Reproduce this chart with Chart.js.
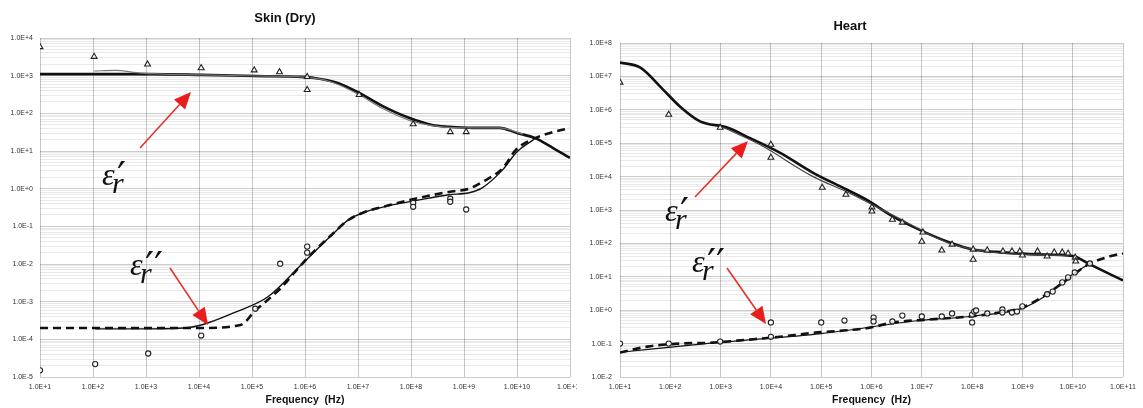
<!DOCTYPE html>
<html>
<head>
<meta charset="utf-8">
<script src="https://cdn.jsdelivr.net/npm/chart.js@4.4.1/dist/chart.umd.min.js"></script>
<style>
  html, body { margin: 0; padding: 0; background: #fff; }
  #wrap { position: relative; width: 1143px; height: 408px; overflow: hidden; background: #fff; }
  #skinBox { position: absolute; left: 0; top: 0; width: 600px; height: 408px; }
  #heartBox { position: absolute; left: 577px; top: 0; width: 566px; height: 408px; background: #fff; }
</style>
</head>
<body>
<div id="wrap">
  <div id="skinBox"><canvas id="skin"></canvas></div>
  <div id="heartBox"><canvas id="heart"></canvas></div>
</div>
<script>
// ---------- Skin (Dry) ----------
// relative permittivity, model curve and measured curve
const skinRealModelF = [1e1, 1.2e3, 1.1e4, 1.15e5, 8.5e5, 1.5e6, 4e6, 1.05e7, 2.8e7, 9.1e7, 2.5e8, 5.2e8, 1.45e9, 4.7e9, 1.0e10, 2.2e10, 4.8e10, 1e11];
const skinRealModel  = [1100, 1100, 1050, 980, 930, 870, 650, 350, 160, 76, 49, 44, 41, 41, 30, 22, 12, 6.6];
const skinRealMeasF  = [1.05e2, 2.6e2, 8e2, 1.1e4, 1.15e5, 8.5e5, 3.2e6, 1.05e7, 2.8e7, 9.1e7, 2.5e8, 9.3e8, 4.7e9, 1.3e10];
const skinRealMeas   = [1330, 1380, 1170, 1050, 980, 930, 680, 310, 138, 66, 47, 41, 41, 28];
// loss factor, measured (solid) and model (dashed)
const skinImagMeasF  = [1.1e2, 1.2e3, 7e3, 1.5e4, 4.6e4, 2.0e5, 8.5e5, 1.3e6, 3.2e6, 6.7e6, 1.35e7, 4.4e7, 1.2e8, 5.2e8, 1.25e9, 2.2e9, 5.4e9, 1.0e10, 2.0e10];
const skinImagMeas   = [1.9e-4, 1.9e-4, 2.1e-4, 2.75e-4, 5.1e-4, 1.35e-3, 9.5e-3, 0.017, 0.059, 0.15, 0.24, 0.37, 0.48, 0.69, 0.78, 1.05, 3.2, 9.5, 19.5];
const skinImagModelF = [1e1, 1.2e3, 1.1e4, 6.3e4, 1.1e5, 3.5e5, 6.3e5, 1.3e6, 3.2e6, 6.7e6, 1.35e7, 4.4e7, 1.2e8, 5.2e8, 1.25e9, 2.2e9, 5.4e9, 9.5e9, 2.2e10, 4.2e10, 1e11];
const skinImagModel  = [2.0e-4, 2.0e-4, 2.0e-4, 2.45e-4, 5.4e-4, 2.3e-3, 5.9e-3, 0.018, 0.06, 0.15, 0.24, 0.38, 0.54, 0.82, 1.0, 1.5, 3.5, 10.7, 22, 30, 41];
// literature data points
const skinTriF  = [1e1, 1.05e2, 1.07e3, 1.1e4, 1.1e5, 3.3e5, 1.1e6, 1.1e6, 1.05e7, 1.1e8, 5.5e8, 1.1e9];
const skinTriV  = [5800, 3200, 2000, 1600, 1400, 1250, 930, 420, 310, 52, 32, 32];
const skinCircF = [1e1, 1.1e2, 1.1e3, 1.1e4, 1.15e5, 3.4e5, 1.1e6, 1.1e6, 1.1e8, 1.1e8, 5.5e8, 5.5e8, 1.1e9];
const skinCircV = [1.5e-5, 2.2e-5, 4.2e-5, 1.26e-4, 6.5e-4, 0.0102, 0.029, 0.020, 0.42, 0.33, 0.54, 0.45, 0.28];

// ---------- Heart ----------
const heartRealModelF = [1e1, 2.5e1, 7.1e1, 1.55e2, 3.9e2, 1.35e3, 3.3e3, 1.5e4, 6.9e4, 3.2e5, 8.1e5, 2.7e6, 1.05e7, 3.6e7, 1.05e8, 4.1e8, 1.95e9, 1.0e10, 2.2e10, 1e11];
const heartRealModel  = [2.6e7, 1.85e7, 4.1e6, 1.26e6, 4.5e5, 2.95e5, 1.58e5, 5.2e4, 1.3e4, 4.1e3, 2.0e3, 630, 230, 107, 66, 54, 47, 42, 23.5, 7.8];
const heartRealMeasF  = [1e3, 6e3, 6.9e4, 3.2e5, 2.7e6, 3.6e7, 4.1e8, 7.8e9];
const heartRealMeas   = [3.2e5, 9.1e4, 1.0e4, 3.5e3, 690, 100, 50, 44];
const heartImagModelF = [1e1, 3.5e1, 1.55e2, 7.1e2, 3.3e3, 1.5e4, 6.9e4, 3.2e5, 9.3e5, 2.7e6, 1.26e7, 9.1e7, 3.5e8, 1.0e9, 2.6e9, 7.8e9, 2.0e10, 5.5e10, 1e11];
const heartImagModel  = [0.054, 0.081, 0.10, 0.107, 0.13, 0.16, 0.21, 0.25, 0.30, 0.43, 0.52, 0.65, 0.85, 1.2, 2.6, 8.3, 23, 41, 50];
const heartImagMeasF  = [1e1, 1e3, 1e5, 1e7, 1e8, 1e9, 3e9, 1e10, 2e10];
const heartImagMeas   = [0.055, 0.11, 0.2, 0.5, 0.66, 1.15, 2.8, 12, 23];
const heartTriF  = [1e1, 9.3e1, 9.8e2, 1.0e4, 1.0e4, 1.05e5, 3.1e5, 1.02e6, 1.02e6, 2.6e6, 4.1e6, 1.05e7, 1.0e7, 2.5e7, 4.0e7, 1.05e8, 1.05e8, 2.0e8, 4.1e8, 6.2e8, 8.9e8, 1.0e9, 2.0e9, 3.1e9, 4.3e9, 6.2e9, 8.1e9, 1.12e10, 1.15e10];
const heartTriV  = [6.6e6, 7.2e5, 2.95e5, 9.1e4, 3.7e4, 4.7e3, 2.9e3, 1.2e3, 910, 520, 425, 215, 114, 62, 93, 66, 33, 62, 58, 58, 58, 44, 58, 41, 54, 54, 50, 38, 29];
const heartCircF = [1e1, 9.3e1, 9.8e2, 1.0e4, 1.0e4, 1.0e5, 2.9e5, 1.1e6, 1.1e6, 2.6e6, 4.1e6, 1.0e7, 2.5e7, 4.0e7, 1.0e8, 1.0e8, 1.1e8, 1.2e8, 2.0e8, 4.0e8, 4.0e8, 6.2e8, 7.8e8, 1.0e9, 3.1e9, 4.0e9, 6.2e9, 8.1e9, 1.1e10, 2.2e10];
const heartCircV = [0.10, 0.10, 0.115, 0.43, 0.16, 0.43, 0.49, 0.60, 0.46, 0.46, 0.69, 0.65, 0.65, 0.80, 0.74, 0.43, 0.91, 0.98, 0.80, 1.05, 0.85, 0.85, 0.91, 1.3, 3.0, 3.6, 6.8, 9.6, 13.5, 25];

// axis ranges
const freqRange  = [1e1, 1e11];
const skinRange  = [1e-5, 1e4];
const heartRange = [1e-2, 1e8];

// ---------- helpers ----------
const pts = (xs, ys) => xs.map((x, i) => ({ x, y: ys[i] }));
const isDecade = v => Math.abs(Math.log10(v) - Math.round(Math.log10(v))) < 1e-6;
const sciLabel = v => {
  const e = Math.round(Math.log10(v));
  return '1.0E' + (e < 0 ? '-' : '+') + Math.abs(e);
};
function logTicks(min, max, withMinor) {
  const lo = Math.round(Math.log10(min)), hi = Math.round(Math.log10(max));
  const out = [];
  for (let e = lo; e <= hi; e++) {
    const b = Math.pow(10, e);
    out.push({ value: b });
    if (withMinor && e < hi) for (let m = 2; m <= 9; m++) out.push({ value: m * b });
  }
  return out;
}

function lineSet(data, opts) {
  return Object.assign({
    data, showLine: true, pointRadius: 0, borderColor: '#111', borderWidth: 2.4,
    cubicInterpolationMode: 'monotone', fill: false, order: 2
  }, opts);
}
function markSet(data, style, radius) {
  return {
    data, showLine: false, pointStyle: style, pointRadius: radius,
    borderColor: '#222', borderWidth: 1.1, backgroundColor: 'rgba(255,255,255,0.85)', order: 0
  };
}

function drawArrow(ctx, x1, y1, x2, y2) {
  const a = Math.atan2(y2 - y1, x2 - x1);
  const len = 17, half = 7.5;
  const bx = x2 - len * Math.cos(a), by = y2 - len * Math.sin(a);
  ctx.save();
  ctx.strokeStyle = '#e5302b';
  ctx.fillStyle = '#e81e1e';
  ctx.lineWidth = 1.6;
  ctx.beginPath(); ctx.moveTo(x1, y1); ctx.lineTo(bx, by); ctx.stroke();
  ctx.beginPath();
  ctx.moveTo(x2, y2);
  ctx.lineTo(bx + half * Math.sin(a), by - half * Math.cos(a));
  ctx.lineTo(bx - half * Math.sin(a), by + half * Math.cos(a));
  ctx.closePath(); ctx.fill();
  ctx.restore();
}
// epsilon with subscript r and one or two primes
function drawSymbol(ctx, x, y, primes) {
  ctx.save();
  ctx.fillStyle = '#111';
  ctx.textBaseline = 'alphabetic';
  ctx.textAlign = 'left';
  ctx.font = 'italic 32px "Liberation Serif"';
  ctx.fillText('\u03b5', x, y);
  ctx.font = 'italic 30px "Liberation Serif"';
  ctx.fillText('r', x + 10, y + 8);
  ctx.font = '40px "DejaVu Serif"';
  ctx.fillText(primes === 2 ? '\u2032\u2032' : '\u2032', x + 15, y + 5);
  ctx.restore();
}

// callout arrows and symbol labels drawn over each panel
const callouts = {
  id: 'callouts',
  afterDatasetsDraw(chart, args, opts) {
    const ctx = chart.ctx;
    (opts.items || []).forEach(it => {
      drawArrow(ctx, it.tail[0], it.tail[1], it.tip[0], it.tip[1]);
      drawSymbol(ctx, it.text[0], it.text[1], it.primes);
    });
  }
};

function panel(canvasId, cfg) {
  const tickFont = { family: '"Liberation Sans", Arial, sans-serif', size: 7 };
  return new Chart(document.getElementById(canvasId), {
    type: 'scatter',
    data: { datasets: cfg.datasets },
    plugins: [callouts],
    options: {
      responsive: true, maintainAspectRatio: false, animation: false, events: [],
      layout: { padding: { top: 0, right: cfg.padRight, bottom: 0, left: 0 } },
      plugins: {
        legend: { display: false }, tooltip: { enabled: false },
        title: {
          display: true, text: cfg.title, color: '#111',
          font: { family: '"Liberation Sans", Arial, sans-serif', size: 13, weight: 'bold', lineHeight: 1.2 },
          padding: cfg.titlePad
        },
        callouts: { items: cfg.callouts }
      },
      scales: {
        x: {
          type: 'logarithmic', min: freqRange[0], max: freqRange[1],
          afterBuildTicks: s => { s.ticks = logTicks(freqRange[0], freqRange[1], false); },
          afterFit: s => { s.height = 31; },
          border: { display: false },
          grid: { color: 'rgba(0,0,0,0.22)', lineWidth: 1, drawTicks: false },
          ticks: { autoSkip: false, maxRotation: 0, padding: 6, color: '#333', font: tickFont,
                   callback: v => sciLabel(v) },
          title: { display: true, text: 'Frequency  (Hz)', color: '#111',
                   font: { family: '"Liberation Sans", Arial, sans-serif', size: 10.5, weight: 'bold', lineHeight: 1.2 },
                   padding: { top: 0, bottom: 2 } }
        },
        y: {
          type: 'logarithmic', min: cfg.yRange[0], max: cfg.yRange[1],
          afterBuildTicks: s => { s.ticks = logTicks(cfg.yRange[0], cfg.yRange[1], true); },
          afterFit: s => { s.width = cfg.yWidth; },
          border: { display: false },
          grid: {
            drawTicks: false, lineWidth: 1,
            color: c => (c.tick && isDecade(c.tick.value)) ? 'rgba(0,0,0,0.20)' : 'rgba(0,0,0,0.085)'
          },
          ticks: { autoSkip: false, padding: cfg.yPad, color: '#333', font: tickFont,
                   callback: v => isDecade(v) ? sciLabel(v) : '' }
        }
      }
    }
  });
}

panel('skin', {
  title: 'Skin (Dry)',
  titlePad: { top: 11, bottom: 11.4 },
  padRight: 30, yWidth: 40, yPad: 7,
  yRange: skinRange,
  datasets: [
    markSet(pts(skinTriF, skinTriV), 'triangle', 3.4),
    markSet(pts(skinCircF, skinCircV), 'circle', 2.6),
    lineSet(pts(skinRealMeasF, skinRealMeas), { borderColor: '#777', borderWidth: 1.2, order: 1 }),
    lineSet(pts(skinRealModelF, skinRealModel), { borderWidth: 2.6 }),
    lineSet(pts(skinImagMeasF, skinImagMeas), { borderWidth: 1.4, order: 1 }),
    lineSet(pts(skinImagModelF, skinImagModel), { borderWidth: 2.6, borderDash: [8, 5] })
  ],
  callouts: [
    { tail: [140, 148], tip: [191, 92], text: [102, 185], primes: 1 },
    { tail: [170, 268], tip: [208, 325], text: [130, 275], primes: 2 }
  ]
});

panel('heart', {
  title: 'Heart',
  titlePad: { top: 18.2, bottom: 9.2 },
  padRight: 20, yWidth: 43, yPad: 8,
  yRange: heartRange,
  datasets: [
    markSet(pts(heartTriF, heartTriV), 'triangle', 3.4),
    markSet(pts(heartCircF, heartCircV), 'circle', 2.6),
    lineSet(pts(heartRealMeasF, heartRealMeas), { borderColor: '#444', borderWidth: 1.2, order: 1 }),
    lineSet(pts(heartRealModelF, heartRealModel), { borderWidth: 2.6 }),
    lineSet(pts(heartImagMeasF, heartImagMeas), { borderWidth: 1.2, order: 1 }),
    lineSet(pts(heartImagModelF, heartImagModel), { borderWidth: 2.6, borderDash: [8, 5] })
  ],
  callouts: [
    { tail: [118, 197], tip: [171, 141], text: [88, 221], primes: 1 },
    { tail: [150, 268], tip: [189, 324], text: [115, 272], primes: 2 }
  ]
});
</script>
</body>
</html>
